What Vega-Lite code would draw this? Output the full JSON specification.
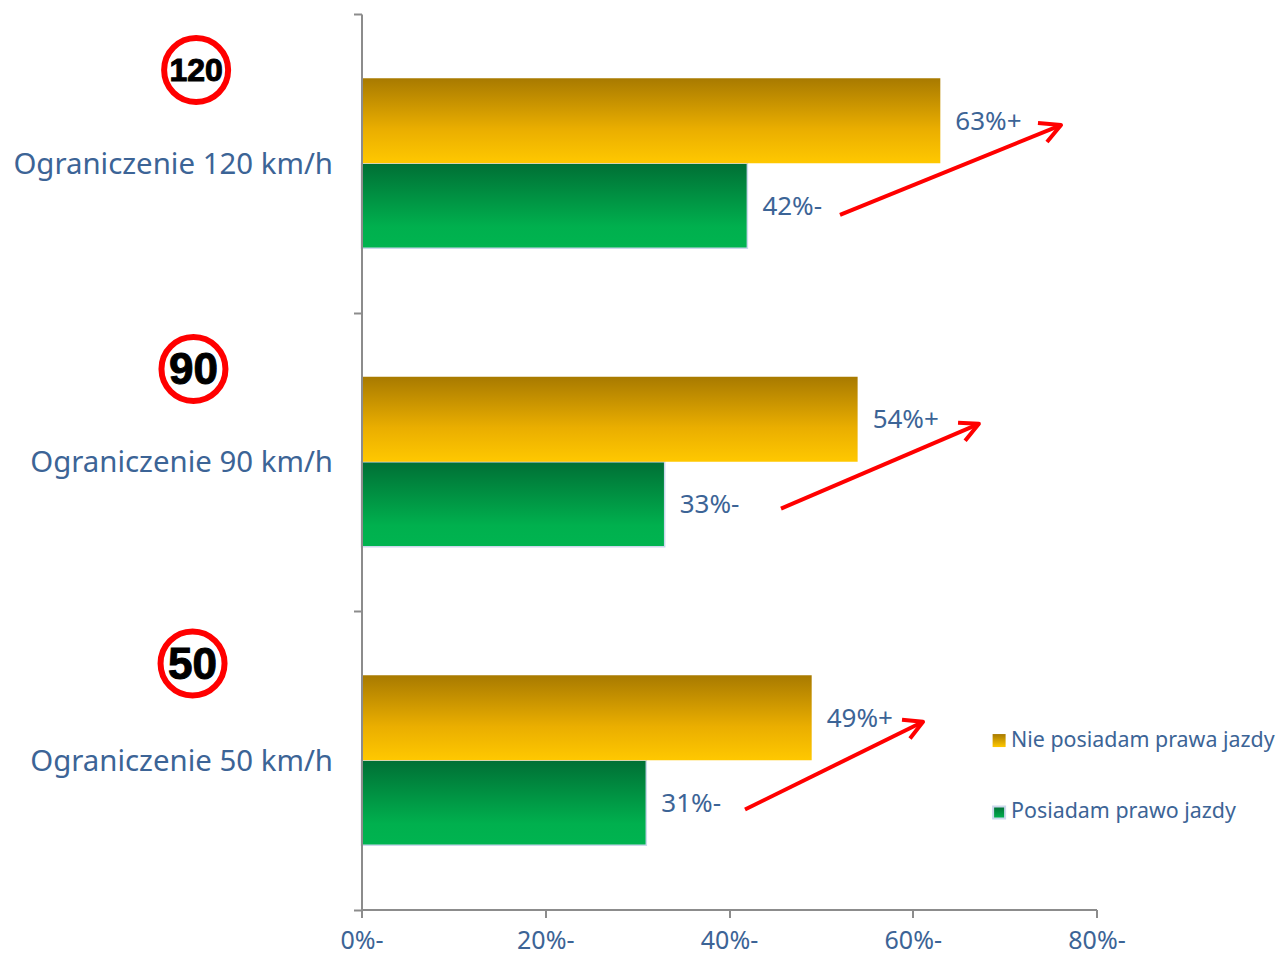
{
  "$schema": "https://vega.github.io/schema/vega-lite/v6.json",
  "width": 735,
  "height": 895.5,
  "autosize": "none",
  "padding": {"left": 361.5, "top": 14, "right": 181.5, "bottom": 43.5},
  "background": "white",
  "view": {"stroke": null},
  "config": {"font": "Noto Sans", "text": {"font": "Noto Sans"}},
  "datasets": {
    "bars": [
      {"limit": "Ograniczenie 120 km/h", "series": "Nie posiadam prawa jazdy", "value": 63},
      {"limit": "Ograniczenie 120 km/h", "series": "Posiadam prawo jazdy", "value": 42},
      {"limit": "Ograniczenie 90 km/h", "series": "Nie posiadam prawa jazdy", "value": 54},
      {"limit": "Ograniczenie 90 km/h", "series": "Posiadam prawo jazdy", "value": 33},
      {"limit": "Ograniczenie 50 km/h", "series": "Nie posiadam prawa jazdy", "value": 49},
      {"limit": "Ograniczenie 50 km/h", "series": "Posiadam prawo jazdy", "value": 31}
    ],
    "signs": [
      {"x": -18.0, "pos": 0.1875, "speed": "120"},
      {"x": -18.29, "pos": 1.189, "speed": "90"},
      {"x": -18.39, "pos": 2.176, "speed": "50"}
    ],
    "arrows": [
      {"arrow": "a120", "part": "shaft", "step": 1, "x": 52.08, "pos": 0.673},
      {"arrow": "a120", "part": "shaft", "step": 2, "x": 76.14, "pos": 0.372},
      {"arrow": "a120", "part": "head", "step": 1, "x": 73.63, "pos": 0.365},
      {"arrow": "a120", "part": "head", "step": 2, "x": 76.14, "pos": 0.372},
      {"arrow": "a120", "part": "head", "step": 3, "x": 74.61, "pos": 0.429},
      {"arrow": "a90", "part": "shaft", "step": 1, "x": 45.66, "pos": 1.657},
      {"arrow": "a90", "part": "shaft", "step": 2, "x": 67.2, "pos": 1.373},
      {"arrow": "a90", "part": "head", "step": 1, "x": 64.93, "pos": 1.369},
      {"arrow": "a90", "part": "head", "step": 2, "x": 67.2, "pos": 1.373},
      {"arrow": "a90", "part": "head", "step": 3, "x": 65.7, "pos": 1.43},
      {"arrow": "a50", "part": "shaft", "step": 1, "x": 41.74, "pos": 2.665},
      {"arrow": "a50", "part": "shaft", "step": 2, "x": 61.12, "pos": 2.371},
      {"arrow": "a50", "part": "head", "step": 1, "x": 58.83, "pos": 2.364},
      {"arrow": "a50", "part": "head", "step": 2, "x": 61.12, "pos": 2.371},
      {"arrow": "a50", "part": "head", "step": 3, "x": 59.7, "pos": 2.427}
    ],
    "legend": [
      {"series": "Nie posiadam prawa jazdy", "x": 69.4, "labelX": 70.7, "pos": 2.434},
      {"series": "Posiadam prawo jazdy", "x": 69.4, "labelX": 70.7, "pos": 2.675}
    ]
  },
  "resolve": {"scale": {"y": "independent"}},
  "layer": [
    {
      "data": {"name": "bars"},
      "transform": [{"filter": "datum.series === 'Posiadam prawo jazdy'"}],
      "mark": {
        "type": "bar",
        "stroke": "#cbd8ec",
        "strokeWidth": 1.5,
        "color": {
          "gradient": "linear", "x1": 0, "y1": 0, "x2": 0, "y2": 1,
          "stops": [
            {"offset": 0, "color": "#006f35"},
            {"offset": 0.75, "color": "#00b04e"},
            {"offset": 1, "color": "#00b450"}
          ]
        }
      },
      "encoding": {
        "x": {
          "field": "value", "type": "quantitative",
          "scale": {"domain": [0, 80], "nice": false},
          "axis": {
            "title": null, "values": [0, 20, 40, 60, 80], "grid": false, "zindex": 1,
            "domainColor": "#8c8c8c", "domainWidth": 2, "tickColor": "#8c8c8c", "tickWidth": 2,
            "tickSize": 8, "labelFontSize": 25, "labelColor": "#3c6496", "labelPadding": 11,
            "labelFlush": false, "labelFont": "Noto Sans", "labelExpr": "datum.value + '%-'"
          }
        },
        "y": {
          "field": "limit", "type": "nominal",
          "scale": {
            "domain": ["Ograniczenie 120 km/h", "Ograniczenie 90 km/h", "Ograniczenie 50 km/h"],
            "paddingInner": 0, "paddingOuter": 0
          },
          "axis": {
            "title": null, "orient": "left", "tickBand": "extent", "grid": false, "zindex": 1,
            "domainColor": "#8c8c8c", "domainWidth": 2, "tickColor": "#8c8c8c", "tickWidth": 2,
            "tickSize": 8, "labelFontSize": 29.4, "labelColor": "#3c6496", "labelPadding": 21,
            "labelOffset": 1, "labelLimit": 400, "labelFont": "Noto Sans"
          }
        },
        "yOffset": {
          "field": "series", "type": "nominal",
          "scale": {"domain": ["Nie posiadam prawa jazdy", "Posiadam prawo jazdy"], "paddingInner": 0, "paddingOuter": 0.757}
        }
      }
    },
    {
      "data": {"name": "bars"},
      "transform": [{"filter": "datum.series === 'Nie posiadam prawa jazdy'"}],
      "mark": {
        "type": "bar",
        "color": {
          "gradient": "linear", "x1": 0, "y1": 0, "x2": 0, "y2": 1,
          "stops": [
            {"offset": 0, "color": "#a87a00"},
            {"offset": 0.6, "color": "#eaae00"},
            {"offset": 1, "color": "#ffc800"}
          ]
        }
      },
      "encoding": {
        "x": {"field": "value", "type": "quantitative"},
        "y": {
          "field": "limit", "type": "nominal", "axis": null,
          "scale": {
            "domain": ["Ograniczenie 120 km/h", "Ograniczenie 90 km/h", "Ograniczenie 50 km/h"],
            "paddingInner": 0, "paddingOuter": 0
          }
        },
        "yOffset": {
          "field": "series", "type": "nominal",
          "scale": {"domain": ["Nie posiadam prawa jazdy", "Posiadam prawo jazdy"], "paddingInner": 0, "paddingOuter": 0.757}
        }
      }
    },
    {
      "data": {"name": "bars"},
      "transform": [{"calculate": "datum.value + (datum.series === 'Nie posiadam prawa jazdy' ? '%+' : '%-')", "as": "label"}],
      "mark": {"type": "text", "align": "left", "baseline": "middle", "dx": 15, "dy": 1, "fontSize": 26, "color": "#3c6496"},
      "encoding": {
        "x": {"field": "value", "type": "quantitative"},
        "y": {
          "field": "limit", "type": "nominal", "axis": null,
          "scale": {
            "domain": ["Ograniczenie 120 km/h", "Ograniczenie 90 km/h", "Ograniczenie 50 km/h"],
            "paddingInner": 0, "paddingOuter": 0
          }
        },
        "yOffset": {
          "field": "series", "type": "nominal",
          "scale": {"domain": ["Nie posiadam prawa jazdy", "Posiadam prawo jazdy"], "paddingInner": 0, "paddingOuter": 0.757}
        },
        "text": {"field": "label"}
      }
    },
    {
      "data": {"name": "arrows"},
      "mark": {"type": "line", "color": "#ff0000", "strokeWidth": 4, "clip": false, "strokeCap": "butt", "strokeJoin": "round"},
      "encoding": {
        "x": {"field": "x", "type": "quantitative"},
        "y": {"field": "pos", "type": "quantitative", "axis": null, "scale": {"domain": [3, 0], "nice": false, "zero": false}},
        "detail": [{"field": "arrow"}, {"field": "part"}],
        "order": {"field": "step", "type": "ordinal"}
      }
    },
    {
      "data": {"name": "signs"},
      "mark": {"type": "point", "shape": "circle", "filled": true, "fill": "white", "stroke": "#ff0000", "strokeWidth": 6, "opacity": 1, "size": 4096, "clip": false},
      "encoding": {
        "x": {"field": "x", "type": "quantitative"},
        "y": {"field": "pos", "type": "quantitative", "axis": null, "scale": {"domain": [3, 0], "nice": false, "zero": false}}
      }
    },
    {
      "data": {"name": "signs"},
      "transform": [{"filter": "datum.speed === '120'"}],
      "mark": {"type": "text", "font": "Liberation Sans", "fontWeight": "bold", "fontSize": 32, "color": "black", "stroke": "black", "strokeWidth": 1, "align": "center", "baseline": "middle", "dy": 1},
      "encoding": {
        "x": {"field": "x", "type": "quantitative"},
        "y": {"field": "pos", "type": "quantitative", "axis": null, "scale": {"domain": [3, 0], "nice": false, "zero": false}},
        "text": {"field": "speed"}
      }
    },
    {
      "data": {"name": "signs"},
      "transform": [{"filter": "datum.speed !== '120'"}],
      "mark": {"type": "text", "font": "Liberation Sans", "fontWeight": "bold", "fontSize": 44, "color": "black", "stroke": "black", "strokeWidth": 1, "align": "center", "baseline": "middle", "dy": 2},
      "encoding": {
        "x": {"field": "x", "type": "quantitative"},
        "y": {"field": "pos", "type": "quantitative", "axis": null, "scale": {"domain": [3, 0], "nice": false, "zero": false}},
        "text": {"field": "speed"}
      }
    },
    {
      "data": {"name": "legend"},
      "transform": [{"filter": "datum.series === 'Nie posiadam prawa jazdy'"}],
      "mark": {
        "type": "point", "shape": "square", "filled": true, "opacity": 1, "size": 169, "clip": false,
        "fill": {
          "gradient": "linear", "x1": 0, "y1": 0, "x2": 0, "y2": 1,
          "stops": [{"offset": 0, "color": "#a87a00"}, {"offset": 1, "color": "#ffc800"}]
        }
      },
      "encoding": {
        "x": {"field": "x", "type": "quantitative"},
        "y": {"field": "pos", "type": "quantitative", "axis": null, "scale": {"domain": [3, 0], "nice": false, "zero": false}}
      }
    },
    {
      "data": {"name": "legend"},
      "transform": [{"filter": "datum.series === 'Posiadam prawo jazdy'"}],
      "mark": {
        "type": "point", "shape": "square", "filled": true, "opacity": 1, "size": 144, "clip": false,
        "stroke": "#cbd8ec", "strokeWidth": 2,
        "fill": {
          "gradient": "linear", "x1": 0, "y1": 0, "x2": 0, "y2": 1,
          "stops": [{"offset": 0, "color": "#006f35"}, {"offset": 1, "color": "#00b450"}]
        }
      },
      "encoding": {
        "x": {"field": "x", "type": "quantitative"},
        "y": {"field": "pos", "type": "quantitative", "axis": null, "scale": {"domain": [3, 0], "nice": false, "zero": false}}
      }
    },
    {
      "data": {"name": "legend"},
      "mark": {"type": "text", "align": "left", "baseline": "middle", "fontSize": 21.4, "color": "#3c6496", "clip": false},
      "encoding": {
        "x": {"field": "labelX", "type": "quantitative"},
        "y": {"field": "pos", "type": "quantitative", "axis": null, "scale": {"domain": [3, 0], "nice": false, "zero": false}},
        "text": {"field": "series"}
      }
    }
  ]
}
